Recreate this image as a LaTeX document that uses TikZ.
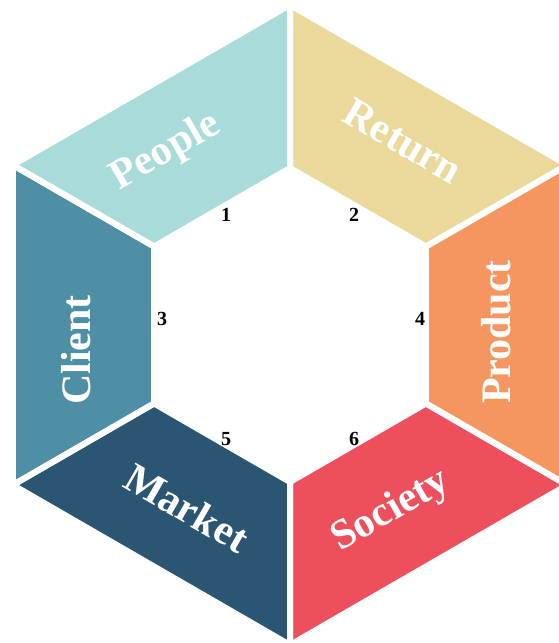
\documentclass[tikz,border=0pt]{standalone}
\usepackage{fontspec}
\setmainfont{Liberation Serif}
\usetikzlibrary{calc}
\definecolor{cpeople}{RGB}{169,219,219}
\definecolor{creturn}{RGB}{234,217,154}
\definecolor{cclient}{RGB}{78,143,166}
\definecolor{cproduct}{RGB}{245,150,96}
\definecolor{cmarket}{RGB}{43,86,115}
\definecolor{csociety}{RGB}{238,79,92}
\tikzset{
  piece/.style={draw=white, line width=6pt, line join=miter},
  lbl/.style={text=white, font=\fontsize{42}{44}\selectfont\bfseries, inner sep=0pt},
  num/.style={text=black, font=\fontsize{20}{22}\selectfont\bfseries, inner sep=0pt}
}
\begin{document}
\begin{tikzpicture}[x=1pt,y=1pt]
\useasboundingbox (0,0) rectangle (559,643);
\coordinate (C) at (290,318);
\foreach \a in {30,90,150,210,270,330}{
  \coordinate (O\a) at ($(C)+(\a:320)$);
  \coordinate (I\a) at ($(C)+(\a:157)$);
}
\begin{scope}
\clip (0,0) rectangle (559,643);
\fill[cpeople]  (O150) -- (O90) -- (I90) -- (I150) -- cycle;
\fill[creturn]  (O90) -- (O30) -- (I30) -- (I90) -- cycle;
\fill[cclient]  (O210) -- (O150) -- (I150) -- (I210) -- cycle;
\fill[cproduct] (O30) -- (O330) -- (I330) -- (I30) -- cycle;
\fill[cmarket]  (O270) -- (O210) -- (I210) -- (I270) -- cycle;
\fill[csociety] (O330) -- (O270) -- (I270) -- (I330) -- cycle;
\draw[piece] (O150) -- (O90) -- (I90) -- (I150) -- cycle;
\draw[piece] (O90) -- (O30) -- (I30) -- (I90) -- cycle;
\draw[piece] (O210) -- (O150) -- (I150) -- (I210) -- cycle;
\draw[piece] (O30) -- (O330) -- (I330) -- (I30) -- cycle;
\draw[piece] (O270) -- (O210) -- (I210) -- (I270) -- cycle;
\draw[piece] (O330) -- (O270) -- (I270) -- (I330) -- cycle;
\end{scope}
\node[lbl, rotate=30]  (people)  at (166,491) {People};
\node[lbl, rotate=-30] (return)  at (403,502) {Return};
\node[lbl, rotate=90]  (client)  at (76,293)  {Client};
\node[lbl, rotate=90]  (product) at (496,311) {Product};
\node[lbl, rotate=-30] (market)  at (187,135) {Market};
\node[lbl, rotate=30]  (society) at (391,132) {Society};
\node[num] (n1) at (226,428) {1};
\node[num] (n2) at (354,428) {2};
\node[num] (n3) at (162,324) {3};
\node[num] (n4) at (420,324) {4};
\node[num] (n5) at (226,204) {5};
\node[num] (n6) at (354,204) {6};
\end{tikzpicture}
\end{document}
